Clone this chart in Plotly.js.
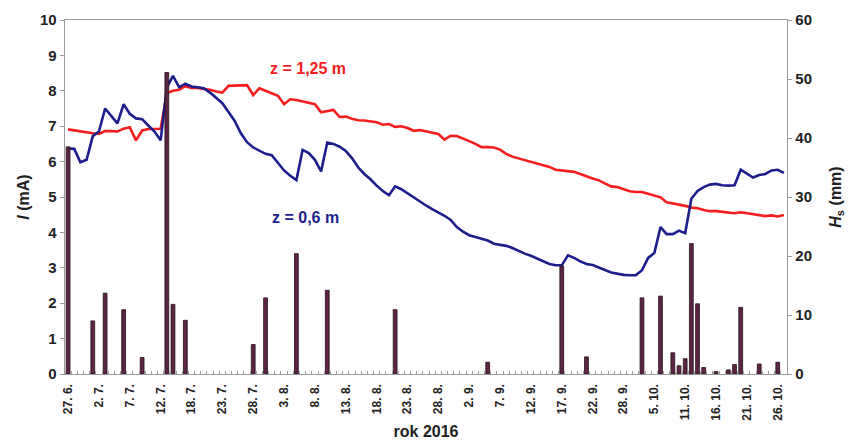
<!DOCTYPE html>
<html>
<head>
<meta charset="utf-8">
<script src="https://cdn.plot.ly/plotly-3.0.1.min.js"></script>
<style>
  html, body { margin: 0; padding: 0; background: #fff; }
  #chart { width: 850px; height: 441px; }
</style>
</head>
<body>
<div id="chart"></div>
<script>
// Measurement days (27.6.–27.10.2016); days without a record are skipped
const firstDay = [2016, 5, 27];
const lastDay = [2016, 9, 27];
const skippedDays = ['16. 7.', '1. 8.', '25. 9.', '1. 10.', '2. 10.', '8. 10.'];

// Current I (mA) at depth z = 1,25 m
const currentDeep = [
  6.91, 6.88, 6.84, 6.83, 6.80, 6.78, 6.86, 6.86, 6.85, 6.93,
  6.97, 6.60, 6.88, 6.92, 6.92, 6.93, 7.93, 8.00, 8.03, 8.13,
  8.08, 8.08, 8.05, 8.03, 7.98, 7.95, 8.14, 8.14, 8.14, 8.16,
  7.88, 8.07, 8.00, 7.93, 7.86, 7.62, 7.76, 7.74, 7.70, 7.66,
  7.62, 7.39, 7.42, 7.46, 7.26, 7.27, 7.21, 7.17, 7.16, 7.13,
  7.11, 7.04, 7.06, 6.98, 7.00, 6.95, 6.87, 6.89, 6.86, 6.83,
  6.78, 6.62, 6.73, 6.72, 6.66, 6.58, 6.50, 6.41, 6.41, 6.40,
  6.34, 6.22, 6.14, 6.09, 6.05, 6.01, 5.95, 5.91, 5.85, 5.77,
  5.75, 5.75, 5.71, 5.65, 5.58, 5.52, 5.47, 5.38, 5.30, 5.28,
  5.23, 5.16, 5.14, 5.14, 5.09, 5.03, 4.99, 4.85, 4.82, 4.80,
  4.75, 4.70, 4.68, 4.63, 4.60, 4.60, 4.58, 4.54, 4.54, 4.57,
  4.54, 4.52, 4.50, 4.46, 4.48, 4.45, 4.49
];

// Current I (mA) at depth z = 0,6 m
const currentShallow = [
  6.37, 6.36, 5.98, 6.05, 6.72, 6.85, 7.50, 7.30, 7.08, 7.62,
  7.35, 7.22, 7.20, 7.02, 6.85, 6.60, 8.10, 8.42, 8.10, 8.20,
  8.12, 8.10, 8.07, 7.95, 7.80, 7.65, 7.40, 7.15, 6.80, 6.55,
  6.40, 6.30, 6.22, 6.18, 5.98, 5.75, 5.60, 5.48, 6.33, 6.24,
  6.05, 5.72, 6.54, 6.50, 6.42, 6.30, 6.10, 5.84, 5.65, 5.50,
  5.32, 5.17, 5.05, 5.30, 5.22, 5.10, 4.99, 4.86, 4.76, 4.66,
  4.57, 4.47, 4.35, 4.15, 4.02, 3.92, 3.87, 3.82, 3.77, 3.68,
  3.66, 3.62, 3.56, 3.47, 3.40, 3.34, 3.27, 3.19, 3.11, 3.07,
  3.07, 3.35, 3.28, 3.18, 3.11, 3.08, 3.00, 2.94, 2.87, 2.83,
  2.80, 2.79, 2.79, 2.93, 3.28, 3.42, 4.15, 3.95, 3.95, 4.05,
  3.98, 4.95, 5.17, 5.28, 5.35, 5.37, 5.33, 5.32, 5.33, 5.77,
  5.65, 5.55, 5.62, 5.65, 5.75, 5.77, 5.68
];

// Precipitation H_s (mm)
const rainDays = [
  '27. 6.', '1. 7.', '3. 7.', '6. 7.', '9. 7.', '13. 7.', '14. 7.', '17. 7.',
  '28. 7.', '30. 7.', '5. 8.', '10. 8.', '21. 8.', '5. 9.', '17. 9.', '21. 9.',
  '3. 10.', '6. 10.', '9. 10.', '10. 10.', '11. 10.', '12. 10.', '13. 10.', '14. 10.',
  '16. 10.', '18. 10.', '19. 10.', '20. 10.', '23. 10.', '26. 10.'
];
const rainMm = [
  38.5, 9.0, 13.7, 10.9, 2.8, 51.1, 11.8, 9.1,
  5.0, 12.9, 20.4, 14.2, 10.9, 2.0, 18.3, 2.9,
  12.9, 13.2, 3.6, 1.4, 2.6, 22.1, 11.9, 1.1,
  0.4, 0.7, 1.6, 11.3, 1.7, 2.0
];

// Build the list of day labels ("d. m.")
const days = [];
const d = new Date(firstDay[0], firstDay[1], firstDay[2]);
const end = new Date(lastDay[0], lastDay[1], lastDay[2]);
while (d <= end) {
  const label = d.getDate() + '. ' + (d.getMonth() + 1) + '.';
  if (!skippedDays.includes(label)) days.push(label);
  d.setDate(d.getDate() + 1);
}
const pos = days.map((_, i) => i);

// Every fifth day carries a label
const tickPos = pos.filter(i => i % 5 === 0 && i < days.length - 1);
const tickText = tickPos.map(i => days[i]);

const font = 'Arial, "Liberation Sans", sans-serif';
const red = '#f51d1d';
const blue = '#1d1d8c';

const traces = [
  {
    type: 'bar',
    x: rainDays.map(r => days.indexOf(r)),
    y: rainMm,
    yaxis: 'y2',
    width: 0.62,
    marker: { color: '#5e2444', line: { color: '#24101a', width: 0.8 } },
    hoverinfo: 'skip'
  },
  {
    type: 'scatter', mode: 'lines',
    x: pos, y: currentDeep,
    line: { color: red, width: 2.6 }
  },
  {
    type: 'scatter', mode: 'lines',
    x: pos, y: currentShallow,
    line: { color: blue, width: 2.6 }
  }
];

const layout = {
  width: 850, height: 441,
  margin: { l: 65, r: 63, t: 20, b: 67 },
  paper_bgcolor: '#fff', plot_bgcolor: '#fff',
  showlegend: false,
  font: { family: font, color: '#222' },
  bargap: 0,
  xaxis: {
    type: 'linear',
    range: [-0.5, days.length - 0.5],
    tickmode: 'array', tickvals: tickPos, ticktext: tickText,
    tickangle: -90,
    ticks: '', ticklabelstandoff: 4,
    tickfont: { family: font, size: 12, color: '#222', weight: 'bold' },
    showgrid: false, zeroline: false,
    showline: true, linecolor: '#9a9a9a', linewidth: 1.3, mirror: true,
    minor: { tickmode: 'linear', tick0: -0.5, dtick: 1, ticks: 'inside', ticklen: 3, tickcolor: '#a0a0a0', tickwidth: 1, showgrid: false },
    title: { text: '<b>rok 2016</b>', font: { family: font, size: 16, color: '#222' }, standoff: 6 }
  },
  yaxis: {
    range: [0, 10], dtick: 1,
    ticks: 'outside', ticklen: 4, tickcolor: '#9a9a9a',
    tickfont: { family: font, size: 15, color: '#222', weight: 'bold' },
    showgrid: false, zeroline: false,
    showline: true, linecolor: '#9a9a9a', linewidth: 1.3,
    title: { text: '<b><i>I</i> (mA)</b>', font: { family: font, size: 16, color: '#222' }, standoff: 6 }
  },
  yaxis2: {
    overlaying: 'y', side: 'right',
    range: [0, 60], dtick: 10,
    ticks: 'outside', ticklen: 4, tickcolor: '#9a9a9a',
    tickfont: { family: font, size: 15, color: '#222', weight: 'bold' },
    showgrid: false, zeroline: false,
    showline: true, linecolor: '#9a9a9a', linewidth: 1.3,
    title: { text: '<b><i>H</i><sub>s</sub> (mm)</b>', font: { family: font, size: 16, color: '#222' }, standoff: 18 }
  },
  annotations: [
    {
      xref: 'x', yref: 'y', x: 38.9, y: 8.62, showarrow: false,
      text: '<b>z = 1,25 m</b>', font: { family: font, size: 16, color: red }
    },
    {
      xref: 'x', yref: 'y', x: 38.4, y: 4.42, showarrow: false,
      text: '<b>z = 0,6 m</b>', font: { family: font, size: 16, color: blue }
    }
  ]
};

Plotly.newPlot('chart', traces, layout, { staticPlot: true, displayModeBar: false });
</script>
</body>
</html>
